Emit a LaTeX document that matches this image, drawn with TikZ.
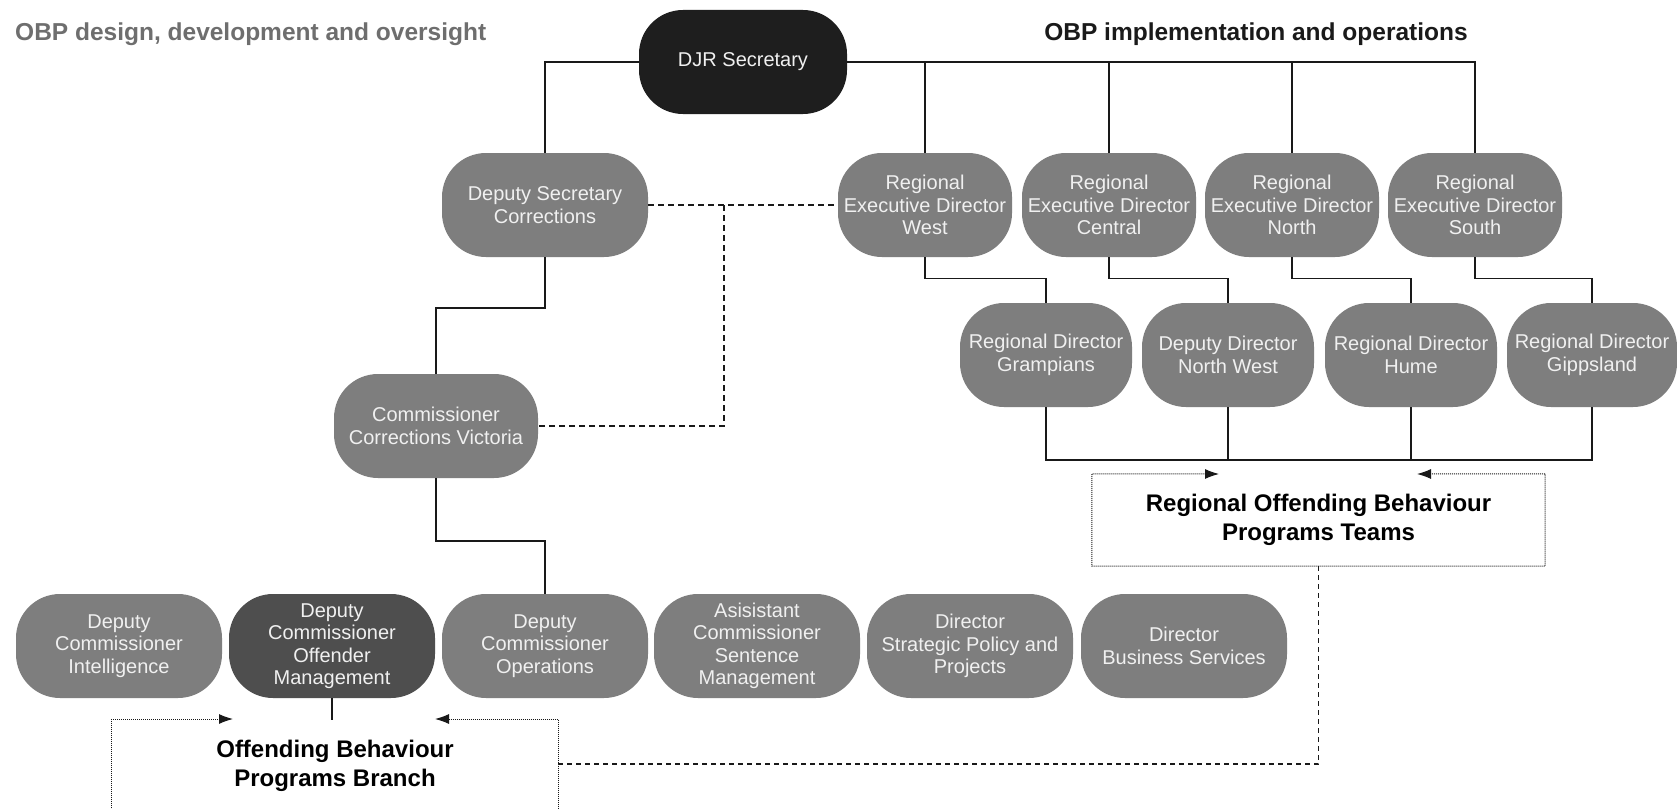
\documentclass[tikz,border=0pt]{standalone}
\usepackage{fontspec}
\setmainfont{Liberation Sans}
\usetikzlibrary{arrows.meta}
\definecolor{boxgray}{HTML}{7E7E7E}
\definecolor{boxdark}{HTML}{4E4E4E}
\definecolor{boxblack}{HTML}{1E1E1E}
\definecolor{boxtext}{HTML}{F0F0F0}
\definecolor{headgray}{HTML}{6E6E6E}
\definecolor{headblack}{HTML}{1A1A1A}
\begin{document}
\begin{tikzpicture}[x=1pt,y=-1pt,
  box/.style={rectangle, rounded corners=44pt, fill=boxgray, text=boxtext,
    minimum height=104pt, inner sep=0pt, align=center,
    font=\fontsize{20}{22.5}\selectfont},
  wbox/.style={box, minimum width=206pt},
  rbox/.style={box, minimum width=174pt},
  dbox/.style={box, minimum width=172pt},
  head/.style={font=\fontsize{24.5}{29}\selectfont\bfseries, inner sep=0pt},
  lbl/.style={font=\fontsize{24}{29}\selectfont\bfseries, align=center, inner sep=0pt, text=black},
  conn/.style={draw=black!90, line width=1.4pt},
  dashln/.style={draw=black!90, line width=1.6pt, dash pattern=on 6pt off 4pt},
  dashln2/.style={draw=black!90, line width=1.8pt, dash pattern=on 5pt off 4pt},
  dotbox/.style={draw=black!90, line width=1pt, dash pattern=on 1pt off 1pt},
  tipend/.style={{Latex[length=14pt,width=10pt]}-},
  tip/.style={{Latex[length=14pt,width=10pt]}-{Latex[length=14pt,width=10pt]}}
]
\fill[white] (0,0) rectangle (1677,808);
\useasboundingbox (0,0) rectangle (1677,808);

% headers
\node[head, text=headgray, anchor=west] (hl) at (15,34) {OBP design, development and oversight};
\node[head, text=headblack] (hr) at (1256,34) {OBP implementation and operations};

% top
\node[wbox, fill=boxblack, minimum width=208pt] (djr) at (743,62) {DJR Secretary};
\node[wbox] (ds) at (545,205) {Deputy Secretary\\Corrections};
\node[wbox, minimum width=204pt] (cv) at (436,426) {Commissioner\\Corrections Victoria};

% regional executive directors
\node[rbox] (rw) at (925,205) {Regional\\Executive Director\\West};
\node[rbox] (rc) at (1109,205) {Regional\\Executive Director\\Central};
\node[rbox] (rn) at (1292,205) {Regional\\Executive Director\\North};
\node[rbox] (rs) at (1475,205) {Regional\\Executive Director\\South};

% regional directors
\node[dbox] (rg) at (1046,355) {Regional Director\\Grampians};
\node[dbox] (rnw) at (1228,355) {Deputy Director\\North West};
\node[dbox] (rh) at (1411,355) {Regional Director\\Hume};
\node[dbox, minimum width=170pt] (rgp) at (1592,355) {Regional Director\\Gippsland};

% bottom row
\node[wbox] (dci) at (119,646) {Deputy\\Commissioner\\Intelligence};
\node[wbox, fill=boxdark] (dcom) at (332,646) {Deputy\\Commissioner\\Offender\\Management};
\node[wbox] (dcop) at (545,646) {Deputy\\Commissioner\\Operations};
\node[wbox] (acsm) at (757,646) {Asisistant\\Commissioner\\Sentence\\Management};
\node[wbox] (dsp) at (970,646) {Director\\Strategic Policy and\\Projects};
\node[wbox] (dbs) at (1184,646) {Director\\Business Services};

% solid connectors
\draw[conn] (djr.west) -| (ds.north);
\draw[conn] (djr.east) -| (rs.north);
\draw[conn] (rw.north) -- (rw.north |- djr.east);
\draw[conn] (rc.north) -- (rc.north |- djr.east);
\draw[conn] (rn.north) -- (rn.north |- djr.east);

\draw[conn] (rw.south) -- ++(0,21) -| (rg.north);
\draw[conn] (rc.south) -- ++(0,21) -| (rnw.north);
\draw[conn] (rn.south) -- ++(0,21) -| (rh.north);
\draw[conn] (rs.south) -- ++(0,21) -| (rgp.north);

\coordinate (hb) at (0,460);
\draw[conn] (rg.south) -- (rg.south |- hb) -- (rgp.south |- hb) -- (rgp.south);
\draw[conn] (rnw.south) -- (rnw.south |- hb);
\draw[conn] (rh.south) -- (rh.south |- hb);

\coordinate (e1) at (0,308);
\draw[conn] (ds.south) -- (ds.south |- e1) -| (cv.north);
\coordinate (e2) at (0,541);
\draw[conn] (cv.south) -- (cv.south |- e2) -| (dcop.north);

\coordinate (omend) at (332,720);
\draw[conn] (dcom.south) -- (omend);

% dashed links
\draw[dashln] (ds.east) -- (rw.west);
\coordinate (dv) at (724,205);
\draw[dashln] (dv) |- (cv.east);

% regional OBP teams
\node[lbl, minimum width=453pt, minimum height=92pt] (robp) at (1318.5,520) {Regional Offending Behaviour\\Programs Teams};
\coordinate (rtl) at (1219,474);
\coordinate (rtr) at (1417,474);
\draw[dotbox, tip] (rtl) -- (robp.north west) -- (robp.south west) -- (robp.south east) -- (robp.north east) -- (rtr);

% OBP branch
\node[lbl] (obpb) at (335,766) {Offending Behaviour\\Programs Branch};
\coordinate (btl) at (233,719);
\coordinate (bnw) at (111,719);
\coordinate (bsw) at (111,815);
\coordinate (btr) at (435,719);
\coordinate (bne) at (558,719);
\coordinate (bse) at (558,815);
\draw[dotbox, tipend] (btl) -- (bnw) -- (bsw);
\draw[dotbox, tipend] (btr) -- (bne) -- (bse);

\coordinate (br) at (558,764);
\draw[dashln2] (br) -| (robp.south);
\end{tikzpicture}
\end{document}
